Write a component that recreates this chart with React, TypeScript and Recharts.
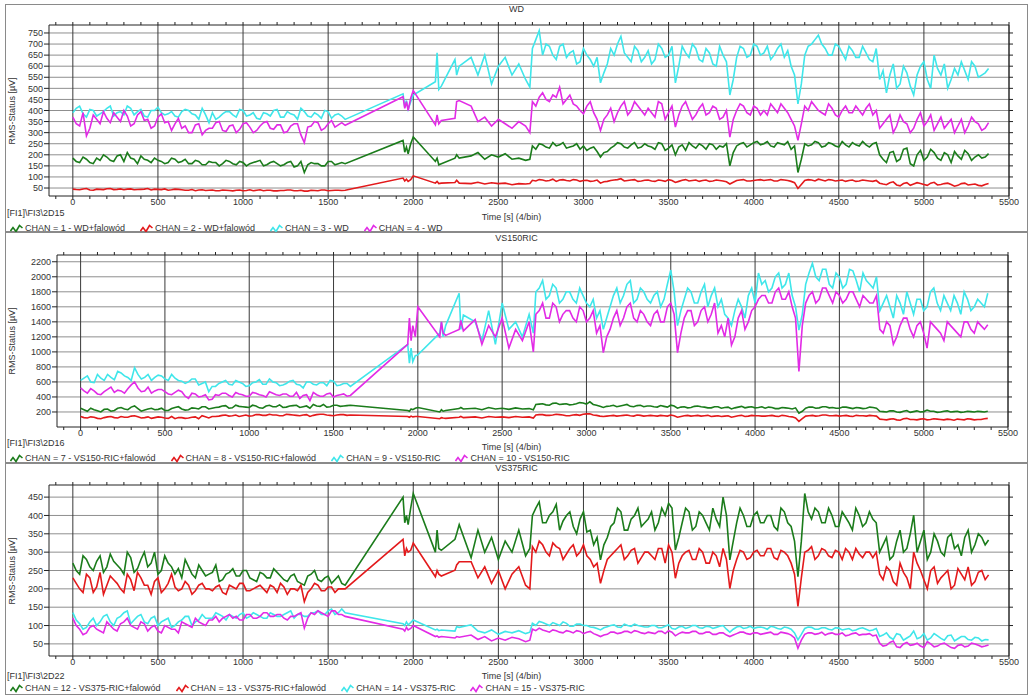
import { LineChart, Line, XAxis, YAxis, ReferenceLine } from 'recharts'

const FONT = '"Liberation Sans", Arial, sans-serif'
const TEXT = '#333'
const GREEN = '#1b7c1b'
const RED = '#e3191b'
const CYAN = '#3fe6ea'
const MAGENTA = '#e22be6'

// time stamps [s], shared by all channels (gaps in the recording are joined by straight segments)
const TIME = [
  0, 40, 80, 120, 160, 200, 240, 280, 320, 360, 400, 440, 480, 520, 560, 600, 640,
  680, 720, 760, 800, 840, 880, 920, 960, 1000, 1040, 1080, 1120, 1160, 1200, 1240, 1280, 1320,
  1360, 1400, 1440, 1480, 1520, 1560, 1600,
  1940, 1950, 1960, 1970, 1985, 2000,
  2130, 2140, 2150, 2165, 2245, 2255, 2270, 2340, 2380, 2420, 2460, 2500, 2540, 2580, 2620, 2660, 2685,
  2700, 2740, 2780, 2820, 2860, 2900, 2940, 2980, 3020, 3060, 3100, 3140, 3180, 3220, 3260, 3300, 3340,
  3380, 3420, 3460, 3500, 3540, 3580, 3620, 3660, 3700, 3740, 3780, 3820, 3860, 3900, 3940, 3980, 4020,
  4060, 4100, 4140, 4180, 4220, 4260, 4300, 4340, 4380, 4420, 4460, 4500, 4540, 4580, 4620, 4660, 4700,
  4740, 4780, 4820, 4860, 4900, 4940, 4980, 5020, 5060, 5100, 5140, 5180, 5220, 5260, 5300, 5340, 5380,
]
// in-between samples of the two dense stretches
const TIME_MID = [
  20, 60, 100, 140, 180, 220, 260, 300, 340, 380, 420, 460, 500, 540, 580, 620, 660, 700, 740, 780,
  820, 860, 900, 940, 980, 1020, 1060, 1100, 1140, 1180, 1220, 1260, 1300, 1340, 1380, 1420, 1460, 1500, 1540, 1580,
  2720, 2760, 2800, 2840, 2880, 2920, 2960, 3000, 3040, 3080, 3120, 3160, 3200, 3240, 3280, 3320, 3360,
  3400, 3440, 3480, 3520, 3560, 3600, 3640, 3680, 3720, 3760, 3800, 3840, 3880, 3920, 3960, 4000, 4040,
  4080, 4120, 4160, 4200, 4240, 4280, 4320, 4360, 4400, 4440, 4480, 4520, 4560, 4600, 4640, 4680, 4720,
  4760, 4800, 4840, 4880, 4920, 4960, 5000, 5040, 5080, 5120, 5160, 5200, 5240, 5280, 5320, 5360,
]

// --- WD ---
const WD_CH1 = [
  185, 165, 180, 160, 175, 190, 170, 200, 210, 180, 195, 175, 185, 170, 165, 180, 170,
  160, 175, 155, 170, 165, 160, 170, 155, 165, 160, 170, 150, 165, 160, 155, 170, 150,
  120, 165, 160, 150, 170, 160, 160,
  265, 212, 235, 205, 250, 280,
  170, 185, 155, 160, 185, 200, 185, 195, 210, 180, 200, 190, 205, 180, 185, 175, 180,
  240, 250, 235, 255, 245, 230, 240, 225, 220, 235, 190, 215, 240, 250, 230, 255, 235,
  240, 225, 250, 230, 200, 245, 255, 230, 240, 250, 225, 235, 150, 240, 255, 245, 260,
  250, 240, 255, 245, 225, 120, 250, 245, 255, 240, 250, 235, 245, 255, 240, 245, 250,
  200, 165, 215, 180, 230, 150, 220, 190, 210, 175, 200, 215, 180, 205, 190, 185, 205,
]
const WD_CH1_MID = [
  170, 190, 165, 185, 200, 175, 195, 170, 185, 160, 180, 165, 175, 160, 185, 165, 180, 160, 170, 155,
  165, 150, 175, 160, 170, 150, 165, 175, 155, 170, 150, 165, 145, 170, 155, 160, 150, 170, 155, 165,
  225, 245, 230, 240, 255, 235, 250, 240, 230, 215, 210, 230, 255, 235, 245, 230, 250,
  235, 255, 220, 245, 235, 220, 240, 250, 225, 245, 240, 250, 210, 250, 235, 255, 245,
  260, 235, 250, 260, 240, 180, 240, 260, 235, 255, 240, 260, 235, 245, 260, 235, 255,
  180, 210, 170, 225, 160, 200, 175, 225, 185, 210, 165, 195, 220, 175, 200, 190,
]
const WD_CH2 = [
  45, 42, 48, 40, 44, 47, 43, 46, 45, 42, 44, 48, 45, 43, 40, 45, 42,
  40, 38, 42, 40, 38, 41, 39, 40, 38, 42, 40, 38, 40, 37, 39, 41, 38,
  36, 40, 38, 41, 39, 40, 40,
  95, 82, 90, 80, 88, 105,
  72, 80, 70, 72, 75, 85, 72, 70, 76, 68, 74, 70, 72, 65, 70, 68, 70,
  85, 88, 82, 90, 86, 84, 88, 80, 85, 82, 72, 80, 86, 92, 84, 88, 82,
  86, 80, 84, 88, 75, 85, 82, 86, 84, 80, 86, 82, 68, 84, 88, 82, 86,
  84, 88, 82, 86, 80, 48, 84, 86, 90, 82, 86, 84, 80, 86, 82, 84, 80,
  72, 65, 78, 60, 74, 68, 70, 62, 76, 66, 72, 58, 70, 64, 68, 60, 70,
]
const WD_CH2_MID = [
  43, 46, 41, 45, 43, 48, 44, 42, 46, 43, 45, 41, 44, 46, 42, 44, 40, 43, 41, 39,
  41, 38, 40, 37, 41, 39, 38, 42, 40, 37, 39, 41, 38, 40, 36, 39, 41, 38, 40, 39,
  82, 86, 84, 80, 88, 82, 86, 84, 80, 86, 78, 84, 88, 82, 86, 80, 85,
  82, 86, 80, 84, 80, 88, 84, 80, 86, 82, 84, 78, 76, 86, 82, 84, 88,
  86, 82, 88, 84, 74, 66, 88, 82, 86, 88, 82, 86, 84, 80, 86, 82, 84,
  68, 74, 64, 70, 62, 74, 66, 72, 64, 70, 66, 62, 72, 66, 62, 66,
]
const WD_CH3 = [
  390, 420, 370, 400, 385, 410, 375, 395, 420, 380, 405, 370, 400, 390, 385, 375, 395,
  400, 380, 410, 345, 360, 385, 395, 370, 400, 380, 365, 390, 375, 405, 370, 385, 360,
  395, 370, 380, 400, 365, 385, 360,
  475, 415, 445, 405, 440, 470,
  530, 660, 495, 510, 630, 560, 600, 640, 560, 650, 520, 600, 640, 560, 610, 540, 505,
  680, 760, 700, 650, 690, 640, 670, 620, 650, 600, 525, 610, 650, 735, 640, 690, 620,
  670, 630, 680, 650, 525, 690, 640, 680, 620, 660, 600, 650, 470, 640, 680, 650, 690,
  660, 630, 680, 640, 600, 430, 650, 700, 740, 680, 650, 690, 630, 670, 640, 660, 620,
  540, 480, 610, 520, 570, 470, 600, 540, 650, 560, 500, 590, 620, 540, 600, 560, 590,
]
const WD_CH3_MID = [
  410, 385, 405, 375, 395, 420, 390, 380, 410, 395, 375, 400, 415, 380, 395, 370, 405, 385, 360, 380,
  390, 370, 395, 380, 405, 375, 390, 360, 385, 400, 370, 395, 380, 410, 375, 390, 365, 395, 380, 375,
  720, 650, 690, 630, 700, 660, 610, 680, 630, 640, 570, 680, 700, 660, 620, 670, 640,
  610, 700, 640, 690, 600, 660, 700, 630, 680, 610, 690, 620, 540, 690, 640, 700, 650,
  690, 650, 700, 670, 560, 520, 690, 720, 700, 650, 700, 660, 690, 640, 690, 630, 680,
  580, 560, 500, 600, 510, 560, 620, 500, 590, 610, 540, 560, 580, 620, 550, 570,
]
const WD_CH4 = [
  370, 330, 285, 380, 340, 365, 390, 350, 375, 340, 395, 360, 330, 385, 350, 340, 320,
  300, 335, 290, 320, 345, 310, 330, 300, 340, 325, 310, 345, 320, 335, 300, 330, 340,
  255, 330, 345, 320, 355, 335, 333,
  462, 410, 440, 400, 455, 490,
  335, 380, 340, 355, 365, 440, 445, 420, 350, 370, 330, 360, 340, 320, 350, 330, 300,
  440, 460, 450, 470, 505, 450, 430, 400, 420, 390, 310, 380, 350, 420, 380, 440, 400,
  410, 370, 430, 390, 325, 420, 400, 380, 430, 390, 410, 370, 280, 400, 420, 380, 410,
  400, 430, 390, 410, 360, 265, 420, 440, 400, 380, 410, 370, 420, 390, 400, 410, 380,
  320, 360, 300, 380, 340, 320, 390, 350, 310, 370, 340, 300, 360, 330, 350, 310, 345,
]
const WD_CH4_MID = [
  340, 390, 320, 360, 395, 345, 370, 400, 330, 380, 355, 320, 370, 345, 310, 365, 330, 300, 340, 310,
  320, 350, 305, 335, 315, 345, 300, 330, 350, 315, 335, 305, 340, 290, 325, 350, 310, 340, 325, 345,
  420, 480, 440, 460, 430, 470, 420, 385, 440, 360, 360, 410, 390, 440, 400, 420, 380,
  390, 440, 360, 420, 380, 440, 360, 410, 380, 420, 360, 400, 360, 430, 390, 420, 380,
  380, 410, 430, 390, 330, 340, 400, 420, 390, 430, 380, 400, 390, 420, 380, 430, 400,
  340, 380, 330, 350, 300, 360, 330, 380, 340, 320, 360, 330, 300, 370, 340, 320,
]

// --- VS150RIC ---
const VS150_CH7 = [
  250, 210, 230, 200, 240, 220, 260, 230, 280, 210, 240, 230, 250, 220, 260, 240, 230,
  250, 270, 240, 260, 280, 250, 290, 270, 260, 280, 250, 290, 270, 260, 280, 290, 270,
  250, 280, 300, 270, 290, 280, 290,
  220, 210, 240, 230, 250, 260,
  200, 230, 210, 220, 245, 260, 240, 250, 230, 260, 240, 250, 235, 255, 240, 245, 230,
  300, 310, 290, 320, 305, 295, 310, 320, 335, 290, 260, 280, 270, 290, 275, 285, 270,
  280, 265, 275, 290, 250, 270, 260, 280, 265, 255, 270, 260, 240, 265, 255, 270, 260,
  250, 260, 245, 255, 240, 185, 250, 265, 255, 270, 260, 250, 265, 245, 255, 250, 260,
  210, 200, 215, 195, 220, 205, 200, 225, 210, 200, 215, 205, 195, 210, 200, 205, 210,
]
const VS150_CH7_MID = [
  230, 250, 215, 235, 210, 250, 240, 265, 245, 225, 250, 235, 220, 245, 270, 225, 255, 240, 270, 250,
  265, 285, 255, 275, 265, 290, 255, 280, 270, 295, 265, 285, 260, 280, 300, 275, 265, 290, 275, 285,
  305, 295, 315, 300, 310, 300, 325, 305, 300, 275, 275, 290, 280, 300, 270, 290, 280,
  270, 285, 265, 280, 265, 255, 275, 270, 255, 270, 250, 265, 255, 275, 265, 255, 270,
  265, 245, 260, 250, 255, 210, 265, 250, 270, 255, 250, 265, 255, 260, 245, 265, 250,
  205, 215, 200, 210, 195, 215, 205, 210, 195, 210, 200, 210, 200, 205, 210, 200,
]
const VS150_CH8 = [
  140, 120, 130, 110, 135, 125, 140, 130, 150, 120, 135, 125, 130, 115, 110, 125, 120,
  135, 150, 120, 140, 155, 145, 160, 150, 145, 165, 155, 170, 160, 150, 165, 155, 160,
  140, 165, 170, 155, 160, 165, 160,
  140, 130, 145, 135, 140, 140,
  110, 125, 120, 115, 130, 140, 125, 135, 120, 140, 130, 135, 125, 140, 130, 135, 120,
  160, 165, 155, 170, 160, 150, 165, 170, 175, 155, 140, 150, 145, 155, 150, 160, 145,
  155, 145, 150, 160, 130, 150, 145, 155, 150, 140, 150, 145, 130, 150, 140, 155, 150,
  145, 155, 140, 150, 135, 75, 145, 155, 150, 160, 150, 145, 155, 140, 150, 145, 150,
  105, 95, 110, 90, 115, 100, 105, 95, 110, 100, 105, 90, 100, 110, 95, 100, 115,
]
const VS150_CH8_MID = [
  125, 135, 115, 125, 140, 120, 130, 145, 135, 125, 115, 135, 120, 140, 125, 115, 130, 110, 135, 140,
  145, 160, 150, 140, 160, 150, 165, 155, 160, 150, 170, 160, 150, 165, 155, 170, 160, 150, 165, 155,
  165, 155, 160, 165, 150, 160, 155, 175, 160, 145, 145, 155, 150, 160, 145, 155, 150,
  150, 155, 145, 150, 140, 155, 150, 145, 155, 145, 140, 150, 140, 155, 145, 150, 145,
  150, 145, 155, 140, 120, 110, 150, 145, 160, 150, 155, 150, 145, 155, 150, 155, 145,
  100, 105, 95, 110, 100, 95, 110, 100, 105, 95, 100, 105, 95, 105, 100, 110,
]
const VS150_CH9 = [
  620, 680, 590, 650, 700, 630, 720, 660, 790, 640, 700, 660, 680, 620, 650, 610, 600,
  640, 580, 470, 540, 600, 570, 620, 580, 550, 600, 570, 640, 590, 560, 610, 570, 520,
  600, 560, 590, 620, 550, 580, 540,
  1100, 850, 1050, 870, 950, 960,
  1250, 1400, 1200, 1350, 1780, 1300, 1490, 1400, 1150, 1550, 1100, 1650, 1300, 1400, 1200, 1500, 1250,
  1800, 1950, 1750, 1850, 1700, 1800, 1650, 1750, 1600, 1450, 1300, 1600, 1850, 1750, 1950, 1700, 1800,
  1650, 1800, 1700, 2090, 1350, 1700, 1800, 1650, 1900, 1750, 1600, 1500, 1350, 1700, 1450, 1850, 2050,
  1950, 1850, 2050, 1900, 1750, 1290, 1900, 2180, 1950, 2100, 1850, 2000, 1900, 2080, 1800, 1950, 1850,
  1550, 1750, 1450, 1650, 1800, 1500, 1700, 1600, 1850, 1550, 1650, 1750, 1500, 1700, 1600, 1650, 1780,
]
const VS150_CH9_MID = [
  650, 600, 700, 620, 660, 740, 680, 620, 700, 660, 620, 690, 640, 700, 620, 580, 640, 560, 600, 540,
  580, 620, 560, 600, 540, 590, 630, 570, 600, 550, 580, 620, 560, 600, 570, 590, 550, 610, 560, 580,
  1850, 1700, 1900, 1650, 1800, 1700, 1850, 1650, 1700, 1550, 1450, 1750, 1650, 1900, 1650, 1850, 1700,
  1750, 1600, 1900, 1800, 1550, 1850, 1650, 1800, 1600, 1850, 1700, 1450, 1550, 1600, 1750, 1650, 1900,
  1800, 2000, 1850, 2050, 1600, 1500, 2050, 2000, 2100, 1900, 2050, 1850, 2100, 1950, 2050, 1900, 2000,
  1650, 1600, 1750, 1500, 1650, 1700, 1550, 1800, 1650, 1750, 1550, 1650, 1800, 1550, 1700, 1600,
]
const VS150_CH10 = [
  520, 450, 480, 430, 500, 460, 480, 510, 600, 470, 530, 480, 500, 440, 460, 470, 380,
  440, 410, 360, 430, 450, 420, 460, 430, 410, 450, 420, 470, 430, 440, 410, 460, 420,
  350, 430, 410, 450, 420, 440, 420,
  1100, 1450, 1150, 1350, 1200, 1600,
  1200, 1400, 1250, 1220, 1300, 1420, 1280, 1430, 1100, 1350, 1200, 1450, 1050, 1300, 1150, 1400, 1000,
  1500, 1650, 1450, 1600, 1500, 1550, 1400, 1550, 1450, 1250, 990, 1300, 1550, 1450, 1650, 1400, 1500,
  1350, 1550, 1400, 1650, 990, 1450, 1550, 1400, 1600, 1500, 1250, 1200, 1090, 1450, 1300, 1550, 1700,
  1750, 1650, 1850, 1700, 1600, 740, 1650, 1800, 1700, 1850, 1650, 1750, 1700, 1800, 1600, 1700, 1650,
  1300, 1400, 1100, 1350, 1450, 1200, 1400, 1050, 1350, 1250, 1400, 1300, 1200, 1400, 1250, 1350, 1360,
]
const VS150_CH10_MID = [
  480, 510, 440, 470, 530, 490, 450, 560, 520, 480, 450, 500, 470, 430, 490, 410, 450, 400, 430, 370,
  420, 450, 400, 440, 410, 460, 430, 400, 450, 420, 440, 410, 380, 430, 460, 410, 440, 400, 430, 410,
  1550, 1450, 1650, 1400, 1550, 1450, 1600, 1400, 1550, 1350, 1200, 1450, 1350, 1600, 1450, 1550, 1400,
  1500, 1400, 1600, 1500, 1250, 1550, 1350, 1550, 1400, 1650, 1350, 1450, 1200, 1550, 1400, 1600, 1750,
  1650, 1800, 1700, 1800, 1450, 1350, 1750, 1650, 1850, 1750, 1800, 1650, 1800, 1700, 1750, 1650, 1750,
  1250, 1350, 1200, 1450, 1300, 1350, 1250, 1400, 1300, 1150, 1350, 1250, 1400, 1300, 1400, 1300,
]

// --- VS375RIC ---
const VS375_CH12 = [
  270, 240, 280, 250, 290, 260, 275, 255, 300, 245, 280, 260, 300, 250, 270, 240, 230,
  260, 230, 250, 240, 265, 225, 245, 235, 250, 230, 220, 240, 230, 245, 225, 235, 220,
  210, 240, 225, 230, 215, 235, 210,
  450, 380, 400, 375, 420, 460,
  300, 360, 310, 305, 335, 350, 375, 285, 360, 300, 340, 280, 330, 300, 360, 290, 310,
  400, 437, 380, 410, 360, 400, 370, 390, 355, 320, 279, 340, 380, 410, 360, 400, 370,
  390, 360, 420, 433, 306, 380, 410, 370, 400, 360, 390, 450, 279, 380, 400, 370, 410,
  380, 400, 360, 410, 370, 233, 460, 390, 410, 380, 400, 370, 395, 360, 400, 380, 390,
  300, 340, 290, 360, 310, 401, 330, 280, 350, 300, 340, 310, 290, 360, 320, 340, 333,
]
const VS375_CH12_MID = [
  250, 290, 260, 275, 245, 295, 265, 240, 285, 255, 300, 270, 240, 290, 260, 255, 280, 240, 265, 235,
  245, 220, 240, 255, 235, 250, 225, 245, 230, 255, 235, 220, 240, 215, 235, 250, 220, 235, 225, 215,
  420, 380, 400, 430, 385, 410, 350, 410, 360, 340, 320, 370, 420, 360, 390, 420, 380,
  410, 380, 400, 420, 340, 420, 360, 410, 380, 420, 370, 400, 330, 420, 370, 400, 380,
  400, 370, 420, 380, 330, 330, 410, 420, 380, 420, 370, 410, 380, 420, 370, 410, 380,
  320, 280, 330, 300, 350, 300, 360, 300, 330, 290, 350, 320, 340, 300, 350, 320,
]
const VS375_CH13 = [
  230, 200, 240, 190, 245, 210, 225, 200, 240, 195, 230, 210, 220, 190, 215, 205, 200,
  210, 195, 215, 200, 205, 190, 210, 200, 215, 195, 205, 200, 210, 190, 205, 200, 195,
  165, 200, 210, 195, 205, 200, 200,
  335, 290, 310, 300, 305, 325,
  233, 250, 240, 235, 251, 265, 274, 274, 230, 260, 215, 250, 200, 240, 260, 210, 200,
  315, 330, 300, 325, 310, 295, 320, 300, 290, 260, 215, 280, 300, 320, 290, 310, 285,
  300, 280, 310, 320, 229, 290, 305, 280, 300, 270, 290, 310, 201, 280, 300, 285, 305,
  290, 310, 280, 300, 270, 152, 300, 315, 290, 305, 285, 300, 310, 280, 295, 300, 285,
  240, 260, 220, 270, 230, 300, 250, 200, 260, 230, 250, 210, 240, 260, 220, 250, 238,
]
const VS375_CH13_MID = [
  215, 190, 230, 205, 185, 235, 215, 190, 225, 245, 210, 185, 230, 200, 240, 195, 220, 185, 210, 200,
  195, 210, 185, 205, 215, 195, 200, 210, 190, 205, 215, 185, 200, 210, 190, 215, 195, 205, 190, 200,
  300, 320, 290, 315, 280, 310, 290, 320, 280, 270, 250, 290, 310, 280, 305, 270, 300,
  290, 310, 270, 300, 270, 300, 280, 310, 270, 300, 260, 280, 250, 305, 280, 300, 290,
  310, 285, 305, 290, 240, 230, 305, 280, 310, 290, 305, 280, 300, 310, 285, 300, 300,
  225, 250, 210, 245, 200, 270, 225, 250, 215, 240, 200, 255, 225, 210, 245, 225,
]
const VS375_CH14 = [
  135, 105, 95, 120, 110, 130, 100, 125, 140, 115, 130, 105, 125, 110, 120, 100, 115,
  125, 110, 130, 120, 135, 125, 130, 120, 135, 125, 130, 120, 135, 125, 130, 140, 130,
  125, 135, 140, 130, 145, 135, 135,
  105, 100, 110, 102, 108, 115,
  88, 90, 86, 88, 85, 97, 95, 102, 85, 80, 88, 76, 84, 80, 86, 78, 82,
  106, 111, 104, 108, 100, 106, 98, 104, 100, 95, 88, 97, 102, 95, 100, 104, 98,
  96, 100, 94, 102, 90, 98, 95, 100, 93, 97, 95, 100, 82, 96, 92, 98, 95,
  94, 98, 92, 96, 90, 61, 92, 95, 90, 94, 88, 93, 90, 86, 92, 90, 88,
  70, 80, 62, 75, 66, 85, 68, 60, 78, 65, 72, 58, 70, 62, 68, 58, 61,
]
const VS375_CH14_MID = [
  115, 90, 110, 100, 125, 110, 120, 135, 105, 125, 110, 120, 100, 115, 95, 110, 125, 100, 115, 120,
  120, 130, 115, 125, 130, 120, 135, 125, 120, 130, 125, 135, 120, 130, 125, 135, 130, 140, 130, 145,
  100, 108, 100, 104, 110, 98, 104, 100, 96, 92, 94, 100, 96, 104, 98, 100, 96,
  100, 94, 98, 92, 96, 92, 100, 94, 98, 92, 98, 90, 90, 98, 94, 92, 96,
  90, 96, 90, 94, 80, 76, 96, 90, 94, 90, 94, 88, 92, 88, 94, 86, 92,
  74, 68, 78, 60, 72, 64, 78, 66, 72, 60, 74, 64, 70, 60, 66, 62,
]
const VS375_CH15 = [
  120, 90, 80, 100, 85, 110, 90, 105, 120, 95, 110, 85, 100, 80, 95, 90, 110,
  100, 120, 105, 115, 125, 120, 130, 125, 115, 130, 120, 135, 125, 130, 120, 125, 130,
  93, 135, 140, 130, 140, 130, 125,
  90, 85, 95, 88, 92, 100,
  70, 72, 68, 70, 66, 70, 68, 74, 62, 70, 58, 66, 60, 68, 64, 56, 60,
  90, 93, 85, 88, 82, 86, 80, 84, 82, 78, 70, 76, 82, 80, 84, 86, 80,
  82, 78, 84, 86, 72, 82, 80, 84, 78, 82, 76, 80, 70, 78, 82, 76, 80,
  78, 82, 76, 80, 74, 38, 76, 80, 78, 74, 80, 76, 72, 78, 74, 76, 72,
  52, 46, 58, 40, 54, 48, 44, 56, 42, 50, 46, 38, 48, 44, 50, 42, 47,
]
const VS375_CH15_MID = [
  100, 75, 95, 90, 80, 100, 85, 110, 100, 90, 105, 95, 85, 100, 90, 80, 105, 95, 110, 100,
  115, 110, 125, 120, 115, 130, 120, 125, 135, 125, 130, 115, 125, 135, 120, 130, 135, 125, 140, 130,
  86, 88, 82, 86, 80, 84, 86, 78, 84, 74, 74, 82, 78, 84, 80, 84, 78,
  80, 84, 78, 82, 78, 80, 84, 78, 82, 76, 80, 74, 74, 82, 78, 80, 76,
  80, 76, 82, 78, 66, 60, 80, 76, 82, 78, 76, 80, 74, 80, 76, 78, 74,
  44, 54, 42, 50, 46, 52, 40, 50, 44, 52, 40, 46, 42, 52, 46, 44,
]

const X_MAJOR = [0, 500, 1000, 1500, 2000, 2500, 3000, 3500, 4000, 4500, 5000, 5500]
const X_MINOR = Array.from({ length: 57 }, (_, i) => -100 + i * 100)
const X_DOMAIN: [number, number] = [-140, 5500]

const WD_TICKS = [50, 100, 150, 200, 250, 300, 350, 400, 450, 500, 550, 600, 650, 700, 750]
const VS150_TICKS = [200, 400, 600, 800, 1000, 1200, 1400, 1600, 1800, 2000, 2200]
const VS375_TICKS = [50, 100, 150, 200, 250, 300, 350, 400, 450]

const CHART_W = 1023

interface SeriesDef {
  name: string
  color: string
  values: number[]
  mid: number[]
}

interface PanelProps {
  top: number
  height: number
  title: string
  tag: string
  yDomain: [number, number]
  yTicks: number[]
  plotTop: number
  plotBottom: number
  leftW: number
  rightW: number
  titleY: number
  timeY: number
  tagY: number
  legendY: number
  series: SeriesDef[]
}

function LegendIcon({ color }: { color: string }) {
  return (
    <svg width={13} height={9} style={{ display: 'block' }}>
      <polyline points="0.5,7 3,3.5 6,7.5 9.5,1.5 12.5,4" fill="none" stroke={color} strokeWidth={1.6} />
    </svg>
  )
}

function buildRows(series: SeriesDef[]) {
  const main = TIME.map((t, i) => {
    const row: Record<string, number> = { t }
    series.forEach((s, k) => {
      row['s' + k] = s.values[i]
    })
    return row
  })
  const mid = TIME_MID.map((t, i) => {
    const row: Record<string, number> = { t }
    series.forEach((s, k) => {
      row['s' + k] = s.mid[i]
    })
    return row
  })
  return [...main, ...mid].sort((a, b) => a.t - b.t)
}

function Panel(p: PanelProps) {
  const data = buildRows(p.series)
  const tickStyle = { fontSize: 9, fill: TEXT, fontFamily: FONT }
  const txt: React.CSSProperties = {
    position: 'absolute',
    fontFamily: FONT,
    fontSize: 9,
    color: TEXT,
    lineHeight: '10px',
    whiteSpace: 'nowrap',
    transform: 'translateY(-50%)',
  }
  return (
    <div
      style={{
        position: 'absolute',
        left: 5,
        top: p.top,
        width: CHART_W,
        height: p.height,
        boxShadow: 'inset 0 0 0 1px #8a8a8a',
      }}
    >
      <LineChart
        width={CHART_W}
        height={p.height}
        data={data}
        margin={{ top: p.plotTop - 4, right: 0, bottom: 0, left: 0 }}
      >
        <XAxis
          xAxisId="top"
          orientation="top"
          dataKey="t"
          type="number"
          domain={X_DOMAIN}
          allowDataOverflow
          ticks={X_MINOR}
          interval={0}
          tickFormatter={() => ''}
          tickSize={3}
          height={4}
          stroke="#222"
        />
        <XAxis
          xAxisId="bottom"
          dataKey="t"
          type="number"
          domain={X_DOMAIN}
          allowDataOverflow
          ticks={X_MINOR}
          interval={0}
          tickFormatter={(v: number) => (v % 500 === 0 ? String(v) : '')}
          tickSize={3}
          tickMargin={0}
          tick={tickStyle}
          height={p.height - p.plotBottom}
          stroke="#222"
        />
        <YAxis
          yAxisId="left"
          type="number"
          domain={p.yDomain}
          allowDataOverflow
          ticks={p.yTicks}
          interval={0}
          tickSize={5}
          tickMargin={1}
          tick={tickStyle}
          width={p.leftW}
          stroke="#222"
        />
        <YAxis
          yAxisId="right"
          orientation="right"
          type="number"
          domain={p.yDomain}
          allowDataOverflow
          ticks={p.yTicks}
          interval={0}
          tickFormatter={() => ''}
          tickSize={4}
          width={p.rightW}
          stroke="#222"
        />
        {p.yTicks.map((v) => (
          <ReferenceLine key={'h' + v} xAxisId="bottom" yAxisId="left" y={v} stroke="#8f8f8f" strokeWidth={1} />
        ))}
        {X_MAJOR.map((v) => (
          <ReferenceLine key={'v' + v} xAxisId="bottom" yAxisId="left" x={v} stroke="#3a3a3a" strokeWidth={1} />
        ))}
        {p.series.map((s, k) => (
          <Line
            key={s.name}
            xAxisId="bottom"
            yAxisId="left"
            type="linear"
            dataKey={'s' + k}
            stroke={s.color}
            strokeWidth={1.6}
            dot={false}
            isAnimationActive={false}
          />
        ))}
      </LineChart>

      <div style={{ ...txt, left: 0, width: CHART_W, textAlign: 'center', top: p.titleY }}>{p.title}</div>
      <div
        style={{
          ...txt,
          left: 7,
          top: (p.plotTop + p.plotBottom) / 2,
          transform: 'translate(-50%, -50%) rotate(-90deg)',
        }}
      >
        RMS-Status [µV]
      </div>
      <div style={{ ...txt, left: 0, width: CHART_W - 10, textAlign: 'center', top: p.timeY }}>Time [s] (4/bin)</div>
      <div style={{ ...txt, left: 2, top: p.tagY }}>{p.tag}</div>
      <div style={{ ...txt, left: 5, top: p.legendY, display: 'flex', alignItems: 'center', gap: 15 }}>
        {p.series.map((s) => (
          <div key={s.name} style={{ display: 'flex', alignItems: 'center', gap: 2 }}>
            <LegendIcon color={s.color} />
            <span>{s.name}</span>
          </div>
        ))}
      </div>
    </div>
  )
}

export default function App() {
  return (
    <div
      style={{
        position: 'absolute',
        left: 0,
        top: 0,
        width: 1033,
        height: 697,
        background: '#fff',
        overflow: 'hidden',
      }}
    >
      <Panel
        top={4}
        height={228}
        title="WD"
        tag="[FI1]\FI3\2D15"
        yDomain={[14, 786]}
        yTicks={WD_TICKS}
        plotTop={21}
        plotBottom={192}
        leftW={44}
        rightW={19}
        titleY={5}
        timeY={213}
        tagY={209}
        legendY={224}
        series={[
          { name: 'CHAN = 1 - WD+falowód', color: GREEN, values: WD_CH1, mid: WD_CH1_MID },
          { name: 'CHAN = 2 - WD+falowód', color: RED, values: WD_CH2, mid: WD_CH2_MID },
          { name: 'CHAN = 3 - WD', color: CYAN, values: WD_CH3, mid: WD_CH3_MID },
          { name: 'CHAN = 4 - WD', color: MAGENTA, values: WD_CH4, mid: WD_CH4_MID },
        ]}
      />
      <Panel
        top={232}
        height={231}
        title="VS150RIC"
        tag="[FI1]\FI3\2D16"
        yDomain={[0, 2290]}
        yTicks={VS150_TICKS}
        plotTop={23}
        plotBottom={195}
        leftW={52}
        rightW={20}
        titleY={6}
        timeY={215}
        tagY={211}
        legendY={226}
        series={[
          { name: 'CHAN = 7 - VS150-RIC+falowód', color: GREEN, values: VS150_CH7, mid: VS150_CH7_MID },
          { name: 'CHAN = 8 - VS150-RIC+falowód', color: RED, values: VS150_CH8, mid: VS150_CH8_MID },
          { name: 'CHAN = 9 - VS150-RIC', color: CYAN, values: VS150_CH9, mid: VS150_CH9_MID },
          { name: 'CHAN = 10 - VS150-RIC', color: MAGENTA, values: VS150_CH10, mid: VS150_CH10_MID },
        ]}
      />
      <Panel
        top={463}
        height={232}
        title="VS375RIC"
        tag="[FI1]\FI3\2D22"
        yDomain={[17, 483]}
        yTicks={VS375_TICKS}
        plotTop={22}
        plotBottom={193}
        leftW={44}
        rightW={19}
        titleY={5}
        timeY={213}
        tagY={213}
        legendY={225}
        series={[
          { name: 'CHAN = 12 - VS375-RIC+falowód', color: GREEN, values: VS375_CH12, mid: VS375_CH12_MID },
          { name: 'CHAN = 13 - VS375-RIC+falowód', color: RED, values: VS375_CH13, mid: VS375_CH13_MID },
          { name: 'CHAN = 14 - VS375-RIC', color: CYAN, values: VS375_CH14, mid: VS375_CH14_MID },
          { name: 'CHAN = 15 - VS375-RIC', color: MAGENTA, values: VS375_CH15, mid: VS375_CH15_MID },
        ]}
      />
    </div>
  )
}
